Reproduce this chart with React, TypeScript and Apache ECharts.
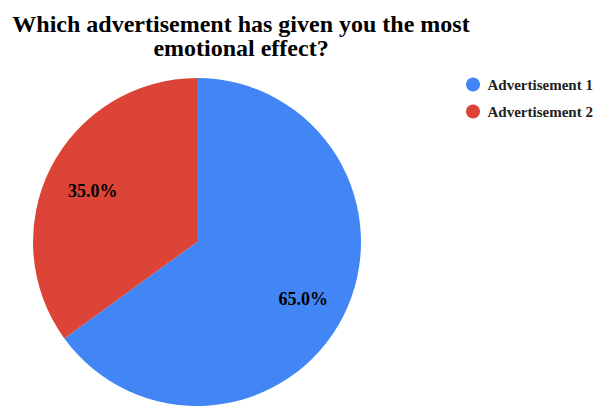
import React, { useEffect, useRef } from "react";
import * as echarts from "echarts";

const categories = ["Advertisement 1", "Advertisement 2"];
const values = [65, 35];
const colors = ["#4285F4", "#DB4437"];
const titleLines = ["Which advertisement has given you the most", "emotional effect?"];

const FONT = "Liberation Serif";

export default function App() {
  const ref = useRef<HTMLDivElement>(null);
  useEffect(() => {
    if (!ref.current) return;
    const chart = echarts.init(ref.current, null, { renderer: "svg" });
    const data = categories.map((name, i) => ({ name, value: values[i], itemStyle: { color: colors[i] } }));
    chart.setOption({
      animation: false,
      backgroundColor: "#ffffff",
      graphic: titleLines.map((t, i) => ({
        type: "text",
        x: 241,
        y: 12 + i * 24,
        style: {
          text: t,
          textAlign: "center",
          textVerticalAlign: "top",
          fontFamily: FONT,
          fontWeight: "bold",
          fontSize: 24,
          lineHeight: 24,
          fill: "#000000",
        },
      })),
      legend: {
        orient: "vertical",
        left: 461,
        top: 72,
        icon: "circle",
        itemWidth: 19,
        itemHeight: 14,
        itemGap: 12,
        data: categories,
        textStyle: { fontFamily: FONT, fontWeight: "bold", fontSize: 15, color: "#222222" },
      },
      series: [
        {
          type: "pie",
          center: [197, 242],
          radius: [0, 164],
          startAngle: 90,
          clockwise: true,
          label: { show: false },
          labelLine: { show: false },
          itemStyle: { borderColor: "#ffffff", borderWidth: 0 },
          emphasis: { disabled: true },
          data,
        },
        {
          type: "pie",
          center: [198, 245],
          radius: [64, 166],
          startAngle: 90,
          clockwise: true,
          silent: true,
          legendHoverLink: false,
          itemStyle: { color: "rgba(0,0,0,0)" },
          emphasis: { disabled: true },
          label: {
            show: true,
            position: "inside",
            formatter: (p: any) => p.value.toFixed(1) + "%",
            fontFamily: FONT,
            fontWeight: "bold",
            fontSize: 18,
            color: "#000000",
          },
          labelLine: { show: false },
          data: categories.map((name, i) => ({ name: name + " ", value: values[i] })),
        },
      ],
    });
    return () => chart.dispose();
  }, []);
  return <div ref={ref} style={{ position: "absolute", left: 0, top: 0, width: 606, height: 407 }} />;
}
